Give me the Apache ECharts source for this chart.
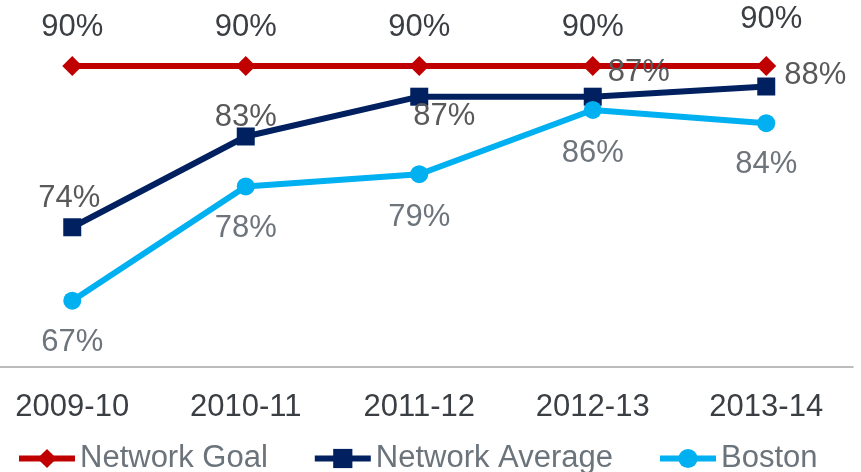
<!DOCTYPE html>
<html>
<head>
<meta charset="utf-8">
<style>
  html, body { margin: 0; padding: 0; background: #fff; }
  #chart { width: 861px; height: 472px; }
</style>
<script src="https://cdn.jsdelivr.net/npm/echarts@6/dist/echarts.min.js"></script>
</head>
<body>
<div id="chart"></div>
<script>
// 数据
const years = ["2009-10", "2010-11", "2011-12", "2012-13", "2013-14"]
const networkGoal = [90, 90, 90, 90, 90]
const networkAverage = [74.2, 83.1, 87, 87, 88]
const boston = [67, 78.2, 79.4, 85.7, 84.4]

// 标签偏移（相对于数据点中心）
const goalLabelOffset = [[0, -39], [0, -39], [0, -39], [0, -39], [5, -47]]
const avgLabelOffset = [[-3, -29], [0, -19], [25, 20], [46, -24], [49, -11]]
const bostonLabelOffset = [[0, 42], [0, 42], [0, 43], [0, 43], [0, 41]]

const font = "Liberation Sans, Arial, sans-serif"

// 给每个点加上标签位置
function withLabels(values, offsets, color) {
  return values.map((v, i) => ({
    value: v,
    label: {
      show: true,
      position: "inside",
      offset: offsets[i],
      formatter: p => Math.round(p.value) + "%",
      color: color,
      fontSize: 31,
      fontFamily: font
    }
  }))
}

let option = {
  animation: false,
  grid: {
    left: -14.5,
    right: 8,
    top: 10,
    bottom: 105,
    outerBoundsMode: "none"
  },
  legend: {
    left: 16,
    top: 443,
    padding: 0,
    itemWidth: 56,
    itemHeight: 24,
    itemGap: 44,
    lineStyle: { width: 6 },
    textStyle: {
      fontSize: 31,
      color: "#6b737b",
      fontFamily: font
    },
    data: ["Network Goal", "Network Average", "Boston"]
  },
  xAxis: {
    type: "category",
    data: years,
    axisLine: {
      lineStyle: { color: "#a6a6a6", width: 1.5 }
    },
    axisTick: {
      length: 8,
      lineStyle: { color: "#a6a6a6", width: 1.5 }
    },
    axisLabel: {
      margin: 25,
      fontSize: 31,
      color: "#3b3f44",
      fontFamily: font
    }
  },
  yAxis: {
    type: "value",
    min: 60.5,
    max: 95.5,
    show: false,
    splitLine: { show: false }
  },
  series: [
    {
      name: "Network Goal",
      type: "line",
      data: withLabels(networkGoal, goalLabelOffset, "#3b3f44"),
      symbol: "diamond",
      symbolSize: 20,
      itemStyle: { color: "#c00000" },
      lineStyle: { color: "#c00000", width: 6 }
    },
    {
      name: "Network Average",
      type: "line",
      data: withLabels(networkAverage, avgLabelOffset, "#595959"),
      symbol: "rect",
      symbolSize: 18,
      itemStyle: { color: "#002060" },
      lineStyle: { color: "#002060", width: 6 }
    },
    {
      name: "Boston",
      type: "line",
      data: withLabels(boston, bostonLabelOffset, "#6d747b"),
      symbol: "circle",
      symbolSize: 18,
      itemStyle: { color: "#00b0f0" },
      lineStyle: { color: "#00b0f0", width: 6 }
    }
  ]
}

const chartEl = echarts.init(document.getElementById("chart"))
chartEl.setOption(option)
</script>
</body>
</html>
